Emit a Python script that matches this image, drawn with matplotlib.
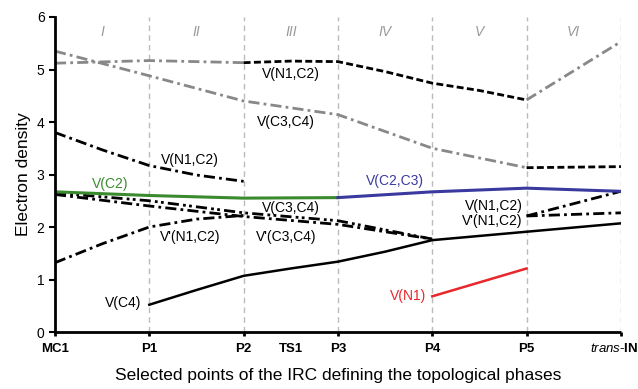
import matplotlib
matplotlib.use("Agg")
import matplotlib.pyplot as plt
import numpy as np

plt.rcParams['font.family'] = ['Liberation Sans', 'DejaVu Sans']
plt.rcParams['mathtext.fontset'] = 'custom'
plt.rcParams['mathtext.rm'] = 'Liberation Sans'
plt.rcParams['mathtext.it'] = 'Liberation Sans:italic'
plt.rcParams['mathtext.bf'] = 'Liberation Sans:bold'

# x positions of the IRC points
tick_pos = [0, 1, 2, 2.5, 3, 4, 5, 6]
tick_labels = ["MC1", "P1", "P2", "TS1", "P3", "P4", "P5", ""]
last_label = r"$\mathit{trans}$-$\mathbf{IN}$"
phases = ["I", "II", "III", "IV", "V", "VI"]

# gray dash-dot, top (MC1 -> P2)
top_gray_x = [0, 1, 2]
top_gray_y = [5.12, 5.17, 5.13]
# black dashed V(N1,C2) (P2 -> P5)
vn1c2_x = [2, 2.5, 3, 3.5, 4, 4.5, 5]
vn1c2_y = [5.13, 5.16, 5.15, 4.96, 4.74, 4.60, 4.42]
# gray dash-dot P5 -> trans-IN
vi_gray_x = [5, 6]
vi_gray_y = [4.42, 5.53]
# gray dash-dot V(C3,C4)
vc3c4_x = [0, 1, 2, 3, 4, 5]
vc3c4_y = [5.35, 4.88, 4.40, 4.14, 3.50, 3.13]
# black dashed P5 -> trans-IN
vc3c4_end_x = [5, 6]
vc3c4_end_y = [3.13, 3.15]
# black dash-dot V(N1,C2) phase I-II
vn1c2_a_x = [0, 0.5, 1, 1.5, 2]
vn1c2_a_y = [3.80, 3.47, 3.17, 2.99, 2.87]
# V(C2) green, V(C2,C3) blue
vc2_x = [0, 1, 2, 3]
vc2_y = [2.67, 2.60, 2.55, 2.56]
vc2c3_x = [3, 4, 5, 6]
vc2c3_y = [2.56, 2.67, 2.74, 2.68]
# V(C3,C4) and V'(C3,C4) bundle
vc3c4_b_x = [0, 1, 2, 3, 4]
vc3c4_b_y = [2.65, 2.50, 2.27, 2.12, 1.77]
vpc3c4_x = [0, 1, 2, 3, 4]
vpc3c4_y = [2.62, 2.40, 2.20, 2.05, 1.77]
# V'(N1,C2) phase I-II
vpn1c2_x = [0, 0.5, 1, 1.5, 2]
vpn1c2_y = [1.32, 1.68, 2.00, 2.15, 2.22]
# V(N1,C2) and V'(N1,C2) phase VI
vn1c2_b_x = [5, 6]
vn1c2_b_y = [2.21, 2.68]
vpn1c2_b_x = [5, 6]
vpn1c2_b_y = [2.21, 2.27]
# V(C4) solid
vc4_x = [1, 1.5, 2, 2.5, 3, 3.5, 4, 5, 6]
vc4_y = [0.52, 0.80, 1.07, 1.21, 1.34, 1.53, 1.75, 1.91, 2.07]
# V(N1) red
vn1_x = [4, 5]
vn1_y = [0.68, 1.21]

fig = plt.figure(figsize=(6.38, 3.89), dpi=100)
ax = fig.add_axes([0.0862, 0.1465, 0.887, 0.8098])

for xv in range(1, 7):
    ax.axvline(xv, color="#bbbbbb", lw=1.0, ls=(0, (4, 3)), zorder=1)

dashdot = (0, (4, 1.5, 1, 1.5))
dashdot2 = (0, (4, 1.5, 1, 1.2, 1, 1.5))
dashed = (0, (2.5, 1.2))
gray = "#888888"

ax.plot(top_gray_x, top_gray_y, color=gray, lw=2, ls=dashdot)
ax.plot(vn1c2_x, vn1c2_y, color="black", lw=2, ls=dashed)
ax.plot(vi_gray_x, vi_gray_y, color=gray, lw=2, ls=dashdot)
ax.plot(vc3c4_x, vc3c4_y, color=gray, lw=2, ls=dashdot)
ax.plot(vc3c4_end_x, vc3c4_end_y, color="black", lw=2, ls=dashed)
ax.plot(vn1c2_a_x, vn1c2_a_y, color="black", lw=2, ls=dashdot)
ax.plot(vc3c4_b_x, vc3c4_b_y, color="black", lw=2, ls=dashdot2)
ax.plot(vpc3c4_x, vpc3c4_y, color="black", lw=2, ls=dashdot)
ax.plot(vpn1c2_x, vpn1c2_y, color="black", lw=2, ls=dashdot)
ax.plot(vn1c2_b_x, vn1c2_b_y, color="black", lw=2, ls=dashdot)
ax.plot(vpn1c2_b_x, vpn1c2_b_y, color="black", lw=2, ls=dashdot)
ax.plot(vc2_x, vc2_y, color="#3a8a2e", lw=2.2)
ax.plot(vc2c3_x, vc2c3_y, color="#3a3a9e", lw=2.2)
ax.plot(vc4_x, vc4_y, color="black", lw=1.8)
ax.plot(vn1_x, vn1_y, color="#e8262b", lw=1.8)

fs = 10
ax.text(2.5, 4.92, "V(N1,C2)", fontsize=fs, ha="center", va="center")
ax.text(2.45, 4.0, "V(C3,C4)", fontsize=fs, ha="center", va="center")
ax.text(1.43, 3.28, "V(N1,C2)", fontsize=fs, ha="center", va="center")
ax.text(0.58, 2.82, "V(C2)", fontsize=fs, ha="center", va="center", color="#3a8a2e")
ax.text(3.6, 2.88, "V(C2,C3)", fontsize=fs, ha="center", va="center", color="#3a3a9e")
ax.text(2.5, 2.36, "V(C3,C4)", fontsize=fs, ha="center", va="center")
ax.text(2.45, 1.81, "V'(C3,C4)", fontsize=fs, ha="center", va="center")
ax.text(1.43, 1.81, "V'(N1,C2)", fontsize=fs, ha="center", va="center")
ax.text(4.96, 2.40, "V(N1,C2)", fontsize=fs, ha="right", va="center")
ax.text(4.96, 2.12, "V'(N1,C2)", fontsize=fs, ha="right", va="center")
ax.text(0.92, 0.55, "V(C4)", fontsize=fs, ha="right", va="center")
ax.text(3.94, 0.69, "V(N1)", fontsize=fs, ha="right", va="center", color="#e8262b")

for i, p in enumerate(phases):
    ax.text(i + 0.5, 5.72, p, fontsize=fs, style="italic", color="#999999",
            ha="center", va="center")

ax.set_xlim(0, 6)
ax.set_ylim(0, 6)
ax.set_xticks(tick_pos)
ax.set_xticklabels(tick_labels, fontweight="bold", fontsize=9.5)
ax.xaxis.get_major_ticks()[3].tick1line.set_visible(False)
ax.text(5.67, -0.32, last_label, fontsize=9.5, ha="left", va="center", clip_on=False)
ax.set_yticks(range(7))
ax.tick_params(axis="y", labelsize=10, width=1.5, length=4)
ax.tick_params(axis="x", width=2, length=3, pad=5)
for s in ["top", "right"]:
    ax.spines[s].set_visible(False)
for s in ["left", "bottom"]:
    ax.spines[s].set_linewidth(2)
ax.spines["bottom"].set_capstyle("butt")

ax.set_ylabel("Electron density", fontsize=12.5, labelpad=4)
ax.set_xlabel("Selected points of the IRC defining the topological phases", fontsize=12.5, labelpad=9)

plt.savefig("out.png", dpi=100)
